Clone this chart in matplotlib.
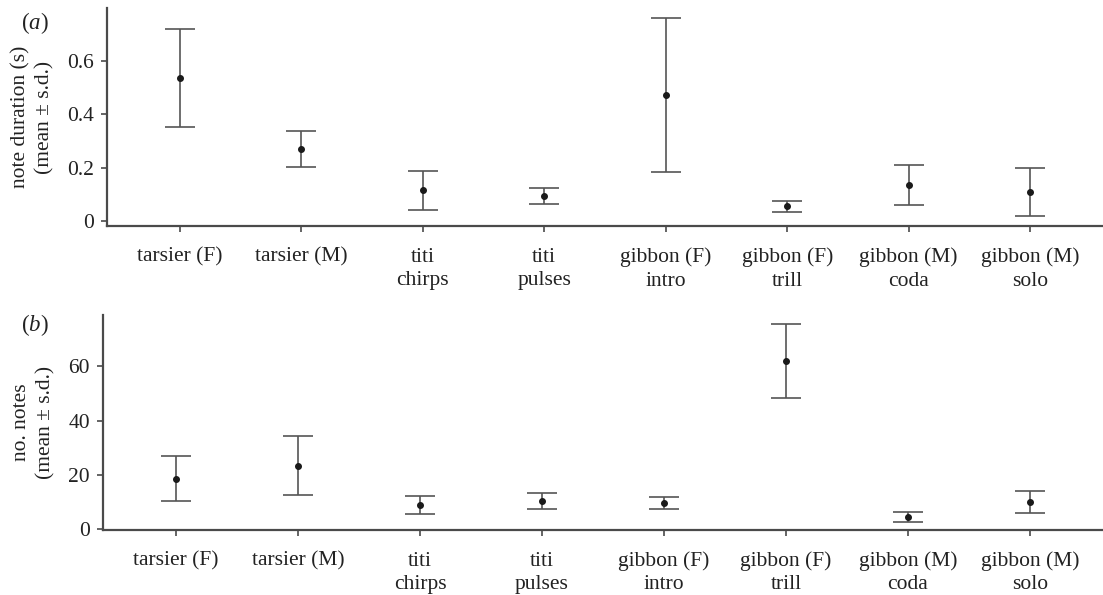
import matplotlib
matplotlib.use("Agg")
import matplotlib.pyplot as plt
import numpy as np

plt.rcParams["font.family"] = ["Liberation Serif", "DejaVu Serif"]
plt.rcParams["mathtext.fontset"] = "custom"
plt.rcParams["mathtext.rm"] = "Liberation Serif"
plt.rcParams["mathtext.it"] = "Liberation Serif:italic"

categories = ["tarsier (F)", "tarsier (M)", "titi\nchirps", "titi\npulses",
              "gibbon (F)\nintro", "gibbon (F)\ntrill", "gibbon (M)\ncoda", "gibbon (M)\nsolo"]

# (a) note duration (s)
dur_mean = [0.536, 0.271, 0.116, 0.094, 0.472, 0.055, 0.135, 0.109]
dur_sd = [0.184, 0.067, 0.073, 0.030, 0.288, 0.021, 0.075, 0.090]

# (b) number of notes
num_mean = [18.5, 23.3, 8.95, 10.3, 9.7, 62.1, 4.4, 9.95]
num_sd = [8.3, 10.9, 3.35, 3.05, 2.25, 13.65, 1.7, 4.15]

spine_col = "#4a4a4a"
bar_col = "#555555"
fs = 15.5

fig = plt.figure(figsize=(11.03, 5.95), dpi=100)
ax_a = fig.add_axes([0.097, 0.620, 0.903, 0.3664])
ax_b = fig.add_axes([0.0934, 0.1092, 0.9066, 0.3613])

x = np.arange(1, len(categories) + 1)


def draw(ax, mean, sd, ylim, yticks, yticklabels, ylabel, tag, tag_y):
    ax.errorbar(x, mean, yerr=sd, fmt="o", color="#1a1a1a", ms=4,
                ecolor=bar_col, elinewidth=1.2, capsize=10.5, capthick=1.2)
    ax.set_xlim(0.4, 8.6)
    ax.set_ylim(*ylim)
    ax.set_xticks(x)
    ax.set_xticklabels(categories, fontsize=fs, color="#222222", linespacing=1.3)
    ax.set_yticks(yticks)
    ax.set_yticklabels(yticklabels, fontsize=fs, color="#222222")
    for s in ["top", "right"]:
        ax.spines[s].set_visible(False)
    for s in ["left", "bottom"]:
        ax.spines[s].set_color(spine_col)
        ax.spines[s].set_linewidth(1.6)
    ax.tick_params(axis="both", colors=spine_col, length=4.5, width=1.2,
                   labelcolor="#222222")
    ax.tick_params(axis="x", pad=11)
    ax.tick_params(axis="y", pad=5)
    ax.set_ylabel(ylabel, fontsize=fs, color="#222222", linespacing=1.35, labelpad=9)
    fig.text(0.019, tag_y, tag, fontsize=fs + 1, ha="left", va="center",
             color="#222222")


draw(ax_a, dur_mean, dur_sd, (-0.019, 0.799), [0, 0.2, 0.4, 0.6],
     ["0", "0.2", "0.4", "0.6"], "note duration (s)\n(mean ± s.d.)",
     r"($\mathit{a}$)", 0.961)
draw(ax_b, num_mean, num_sd, (-0.4, 78.9), [0, 20, 40, 60],
     ["0", "20", "40", "60"], "no. notes\n(mean ± s.d.)",
     r"($\mathit{b}$)", 0.454)

fig.savefig("out.png", dpi=100)
